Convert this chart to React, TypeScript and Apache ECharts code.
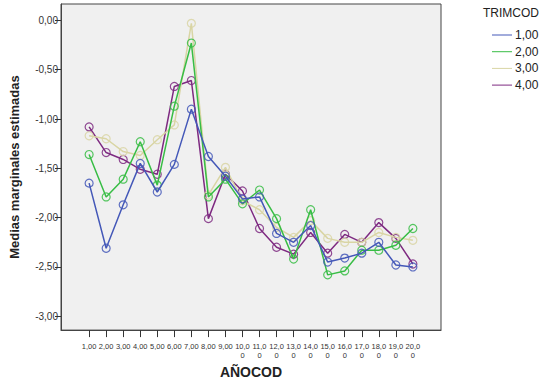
import React, { useEffect, useRef } from "react";
import * as echarts from "echarts";

const years = [1, 2, 3, 4, 5, 6, 7, 8, 9, 10, 11, 12, 13, 14, 15, 16, 17, 18, 19, 20];
const seriesNames = ["1,00", "2,00", "3,00", "4,00"];
const trim1 = [-1.65, -2.31, -1.87, -1.45, -1.74, -1.46, -0.90, -1.38, -1.58, -1.81, -1.79, -2.16, -2.25, -2.08, -2.45, -2.41, -2.36, -2.25, -2.48, -2.50];
const trim2 = [-1.36, -1.79, -1.61, -1.23, -1.67, -0.87, -0.23, -1.79, -1.61, -1.86, -1.72, -2.01, -2.42, -1.92, -2.58, -2.54, -2.33, -2.33, -2.28, -2.11];
const trim3 = [-1.17, -1.20, -1.33, -1.37, -1.21, -1.06, -0.03, -1.77, -1.49, -1.83, -1.92, -2.10, -2.20, -2.03, -2.21, -2.25, -2.25, -2.15, -2.20, -2.23];
const trim4 = [-1.08, -1.34, -1.41, -1.51, -1.56, -0.67, -0.61, -2.01, -1.56, -1.73, -2.11, -2.30, -2.37, -2.15, -2.36, -2.17, -2.25, -2.05, -2.21, -2.47];
const yTicks = [0, -0.5, -1, -1.5, -2, -2.5, -3];
const colors = ["#4458b8", "#38bd45", "#d9d5a4", "#7e2a81"];

const fmtY = (v: number) => (Math.abs(v) < 1e-9 ? 0 : v).toFixed(2).replace(".", ",");
const fmtX = (v: number) => (v < 10 ? `${v},00` : `${v},0\n0`);

export default function App() {
  const ref = useRef<HTMLDivElement>(null);
  useEffect(() => {
    if (!ref.current) return;
    const chart = echarts.init(ref.current, null, { renderer: "svg" });
    const data = [trim1, trim2, trim3, trim4];
    chart.setOption({
      animation: false,
      backgroundColor: "#ffffff",
      textStyle: { fontFamily: "Liberation Sans, Arial, sans-serif" },
      graphic: [
        {
          type: "text",
          left: 483,
          top: 7,
          style: { text: "TRIMCOD", font: "12px 'Liberation Sans', Arial, sans-serif", fill: "#222" },
        },
      ],
      legend: {
        orient: "vertical",
        left: 487,
        top: 24,
        icon: "rect",
        itemWidth: 20,
        itemHeight: 1,
        itemGap: 4.7,
        textStyle: { fontSize: 12, color: "#222", padding: [0, 0, 0, -2] },
        data: seriesNames.map((n, i) => ({
          name: n,
          itemStyle: { color: colors[i], borderWidth: 0, opacity: 1 },
          lineStyle: { width: 0 },
        })),
      },
      grid: {
        left: 60,
        top: 4,
        width: 381,
        height: 328,
        show: true,
        backgroundColor: "#f0f0f0",
        borderColor: "#444",
        borderWidth: 1,
      },
      xAxis: {
        type: "value",
        min: -0.65,
        max: 21.65,
        name: "AÑOCOD",
        nameLocation: "middle",
        nameGap: 33,
        nameTextStyle: { fontSize: 14, fontWeight: "bold", color: "#222" },
        axisLine: { show: true, onZero: false, lineStyle: { color: "#444" } },
        axisTick: { show: true, customValues: years, length: 7, lineStyle: { color: "#333" } },
        axisLabel: {
          customValues: years,
          formatter: (v: number) => fmtX(v),
          fontSize: 7.5,
          lineHeight: 9,
          color: "#333",
          margin: 12,
        },
        splitLine: { show: false },
      },
      yAxis: {
        type: "value",
        min: -3.14,
        max: 0.166,
        name: "Medias marginales estimadas",
        nameLocation: "middle",
        nameGap: 40,
        nameTextStyle: { fontSize: 13, fontWeight: "bold", color: "#222" },
        axisLine: { show: true, onZero: false, lineStyle: { color: "#444" } },
        axisTick: { show: true, customValues: yTicks, length: 6, lineStyle: { color: "#333" } },
        axisLabel: {
          customValues: yTicks,
          formatter: (v: number) => fmtY(v),
          fontSize: 10,
          color: "#333",
          margin: 3,
        },
        splitLine: { show: false },
      },
      series: data.map((d, i) => ({
        name: seriesNames[i],
        type: "line",
        data: d.map((v, j) => [years[j], v]),
        symbol: "circle",
        symbolSize: 8,
        lineStyle: { color: colors[i], width: 1.5 },
        itemStyle: { color: "rgba(0,0,0,0)", borderColor: colors[i], borderWidth: 1.2, opacity: 0.85 },
        emphasis: { disabled: true },
        z: 2 + (3 - i),
      })),
    });
    return () => chart.dispose();
  }, []);
  return <div ref={ref} style={{ position: "fixed", left: 0, top: 0, width: 541, height: 384 }} />;
}
